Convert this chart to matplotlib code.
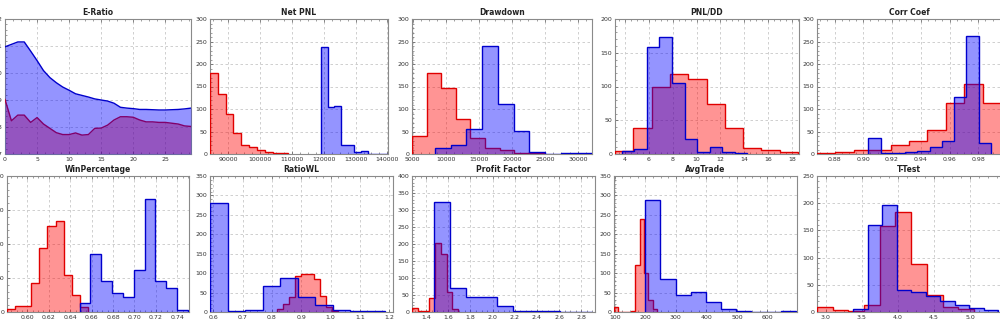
import numpy as np
import matplotlib
matplotlib.use("Agg")
import matplotlib.pyplot as plt
from matplotlib.ticker import AutoMinorLocator, MultipleLocator, FormatStrFormatter

# ---------------- data ----------------
# E-Ratio (line/area)
eratio_x = list(range(30))
eratio_blue = [1.097, 1.106, 1.115, 1.115, 1.081, 1.046, 1.009, 0.983, 0.964, 0.948,
               0.936, 0.923, 0.917, 0.911, 0.904, 0.900, 0.896, 0.888, 0.873, 0.870,
               0.868, 0.865, 0.865, 0.864, 0.863, 0.863, 0.864, 0.865, 0.867, 0.870]
eratio_red = [0.902, 0.823, 0.844, 0.844, 0.817, 0.835, 0.811, 0.795, 0.779, 0.772,
              0.772, 0.778, 0.770, 0.772, 0.795, 0.796, 0.807, 0.826, 0.838, 0.838,
              0.836, 0.826, 0.819, 0.819, 0.817, 0.817, 0.814, 0.811, 0.804, 0.802]

# Histograms: bin range (equal-width bins) and counts
netpnl_red_range = (84186, 108815)
netpnl_red = [181, 134, 90, 47, 21, 16, 8, 4, 2, 3]
netpnl_blue_range = (119068, 140208)
netpnl_blue = [237, 105, 107, 21, 21, 4, 7, 1, 1, 1]

dd_red_range = (4899, 24796)
dd_red = [40, 181, 147, 78, 36, 13, 8, 2, 2]
dd_blue_range = (8384, 32119)
dd_blue = [13, 21, 55, 240, 111, 52, 5, 1, 2, 3]

pnldd_red_range = (3.163, 18.50)
pnldd_red = [4, 39, 100, 118, 111, 74, 39, 9, 6, 2.5]
pnldd_blue_range = (3.721, 14.262)
pnldd_blue = [4, 8, 159, 174, 105, 22, 3.5, 11, 3, 1.5]

corr_red_range = (0.8678, 0.9958)
corr_red = [2, 5, 8, 10, 19, 28, 53, 114, 155, 113]
corr_blue_range = (0.9035, 0.9888)
corr_blue = [35, 1.5, 3, 5, 7, 16, 29, 127, 262, 25]

win_red_range = (0.581, 0.6566)
win_red = [4, 9, 9, 42, 94, 127, 134, 54, 25, 8]
win_blue_range = (0.6488, 0.7499)
win_blue = [13, 86, 46, 28, 22, 62, 166, 46, 35, 2.5]

rwl_red_range = (0.8164, 1.026)
rwl_red = [7, 21, 39, 93, 97, 97, 85, 41, 14, 3]
rwl_blue_range = (0.5886, 1.1856)
rwl_blue = [281, 2.6, 6, 67, 87, 39.5, 17, 4, 2.6, 2]

pf_red_range = (1.2728, 1.689)
pf_red = [13, 2, 2, 42, 202, 171, 59, 10]
pf_blue_range = (1.474, 2.894)
pf_blue = [323, 71, 44, 44, 18, 4, 3, 2, 1, 1]

avg_red_range = (97.3, 237.8)
avg_red = [13, 1, 1, 1, 3, 120, 240, 100, 30, 7]
avg_blue_range = (200, 695)
avg_blue = [287, 84, 44, 51, 25, 7, 2, 1, 1, 3]

tt_red_range = (2.8796, 5.0556)
tt_red = [10, 3, 1, 13, 159, 184, 89, 31, 10, 6]
tt_blue_range = (3.3796, 5.3935)
tt_blue = [5, 160, 196, 40, 36, 29, 21, 12, 7, 3]

titles = ["E-Ratio", "Net PNL", "Drawdown", "PNL/DD", "Corr Coef",
          "WinPercentage", "RatioWL", "Profit Factor", "AvgTrade", "T-Test"]

# ---------------- style ----------------
RED_LINE = "#e00000"
BLUE_LINE = "#0000cc"
RED_FILL = "#ff0000"
BLUE_FILL = "#0000ff"
ALPHA = 0.42

W, H = 1000, 322
fig = plt.figure(figsize=(W / 100, H / 100), dpi=100)


def px_axes(left, top, right, bottom):
    return fig.add_axes([left / W, 1 - bottom / H, (right - left) / W, (bottom - top) / H])


def style(ax, title):
    ax.set_title(title, fontsize=5.5, fontweight="bold", pad=3, color="#222222")
    for s in ax.spines.values():
        s.set_color("#8a8a8a")
        s.set_linewidth(0.8)
    ax.grid(True, which="major", color="#c8c8c8", linestyle=(0, (3, 3)), linewidth=0.6)
    ax.set_axisbelow(True)
    ax.xaxis.set_minor_locator(AutoMinorLocator(4))
    ax.yaxis.set_minor_locator(AutoMinorLocator(5))
    ax.tick_params(which="both", direction="in", top=True, right=False,
                   labelsize=4.5, colors="#555555", labelcolor="#333333", pad=2)
    ax.tick_params(which="major", length=2, width=0.5)
    ax.tick_params(which="minor", length=1.2, width=0.4)


def hist_pair(ax, red_range, red, blue_range, blue):
    z = 2
    for rng, counts, fc, lc in [(red_range, red, RED_FILL, RED_LINE),
                                (blue_range, blue, BLUE_FILL, BLUE_LINE)]:
        edges = np.linspace(rng[0], rng[1], len(counts) + 1)
        ax.stairs(counts, edges, fill=True, facecolor=fc, alpha=ALPHA, linewidth=0, zorder=z)
        ax.stairs(counts, edges, color=lc, linewidth=1.0, zorder=z + 1)
        z += 2


boxes = [
    (5, 19, 191, 154), (210, 19, 388, 154), (412, 19, 592, 154), (615, 19, 799, 154), (817, 19, 1001, 154),
    (7, 176, 189, 312), (210, 176, 393, 312), (412, 176, 595, 312), (614, 176, 797, 312), (817, 176, 1001, 312),
]
axes = [px_axes(*b) for b in boxes]
for ax, t in zip(axes, titles):
    style(ax, t)

# E-Ratio
ax = axes[0]
ax.fill_between(eratio_x, 0.7, eratio_red, color=RED_FILL, alpha=ALPHA, linewidth=0, zorder=2)
ax.plot(eratio_x, eratio_red, color=RED_LINE, lw=1.0, zorder=3)
ax.fill_between(eratio_x, 0.7, eratio_blue, color=BLUE_FILL, alpha=ALPHA, linewidth=0, zorder=4)
ax.plot(eratio_x, eratio_blue, color=BLUE_LINE, lw=1.0, zorder=5)
ax.set_xlim(0, 29)
ax.set_ylim(0.7, 1.2)
ax.xaxis.set_major_locator(MultipleLocator(5))
ax.yaxis.set_major_locator(MultipleLocator(0.1))
ax.yaxis.set_major_formatter(FormatStrFormatter("%.1f"))

# Net PNL
ax = axes[1]
hist_pair(ax, netpnl_red_range, netpnl_red, netpnl_blue_range, netpnl_blue)
ax.set_xlim(84186, 140208)
ax.set_ylim(0, 300)
ax.xaxis.set_major_locator(MultipleLocator(10000))
ax.yaxis.set_major_locator(MultipleLocator(50))

# Drawdown
ax = axes[2]
hist_pair(ax, dd_red_range, dd_red, dd_blue_range, dd_blue)
ax.set_xlim(4899, 32119)
ax.set_ylim(0, 300)
ax.xaxis.set_major_locator(MultipleLocator(5000))
ax.yaxis.set_major_locator(MultipleLocator(50))

# PNL/DD
ax = axes[3]
hist_pair(ax, pnldd_red_range, pnldd_red, pnldd_blue_range, pnldd_blue)
ax.set_xlim(3.163, 18.58)
ax.set_ylim(0, 200)
ax.xaxis.set_major_locator(MultipleLocator(2))
ax.yaxis.set_major_locator(MultipleLocator(50))

# Corr Coef
ax = axes[4]
hist_pair(ax, corr_red_range, corr_red, corr_blue_range, corr_blue)
ax.set_xlim(0.8678, 0.9958)
ax.set_ylim(0, 300)
ax.xaxis.set_major_locator(MultipleLocator(0.02))
ax.xaxis.set_major_formatter(FormatStrFormatter("%.2f"))
ax.yaxis.set_major_locator(MultipleLocator(50))

# WinPercentage
ax = axes[5]
hist_pair(ax, win_red_range, win_red, win_blue_range, win_blue)
ax.set_xlim(0.581, 0.7509)
ax.set_ylim(0, 200)
ax.xaxis.set_major_locator(MultipleLocator(0.02))
ax.xaxis.set_major_formatter(FormatStrFormatter("%.2f"))
ax.yaxis.set_major_locator(MultipleLocator(50))

# RatioWL
ax = axes[6]
hist_pair(ax, rwl_red_range, rwl_red, rwl_blue_range, rwl_blue)
ax.set_xlim(0.5886, 1.2128)
ax.set_ylim(0, 350)
ax.xaxis.set_major_locator(MultipleLocator(0.1))
ax.xaxis.set_major_formatter(FormatStrFormatter("%.1f"))
ax.yaxis.set_major_locator(MultipleLocator(50))

# Profit Factor
ax = axes[7]
hist_pair(ax, pf_red_range, pf_red, pf_blue_range, pf_blue)
ax.set_xlim(1.2728, 2.924)
ax.set_ylim(0, 400)
ax.xaxis.set_major_locator(MultipleLocator(0.2))
ax.xaxis.set_major_formatter(FormatStrFormatter("%.1f"))
ax.yaxis.set_major_locator(MultipleLocator(50))

# AvgTrade
ax = axes[8]
hist_pair(ax, avg_red_range, avg_red, avg_blue_range, avg_blue)
ax.set_xlim(97.3, 697)
ax.set_ylim(0, 350)
ax.xaxis.set_major_locator(MultipleLocator(100))
ax.yaxis.set_major_locator(MultipleLocator(50))

# T-Test
ax = axes[9]
hist_pair(ax, tt_red_range, tt_red, tt_blue_range, tt_blue)
ax.set_xlim(2.8796, 5.43)
ax.set_ylim(0, 250)
ax.xaxis.set_major_locator(MultipleLocator(0.5))
ax.xaxis.set_major_formatter(FormatStrFormatter("%.1f"))
ax.yaxis.set_major_locator(MultipleLocator(50))

fig.savefig("out.png", dpi=100)
